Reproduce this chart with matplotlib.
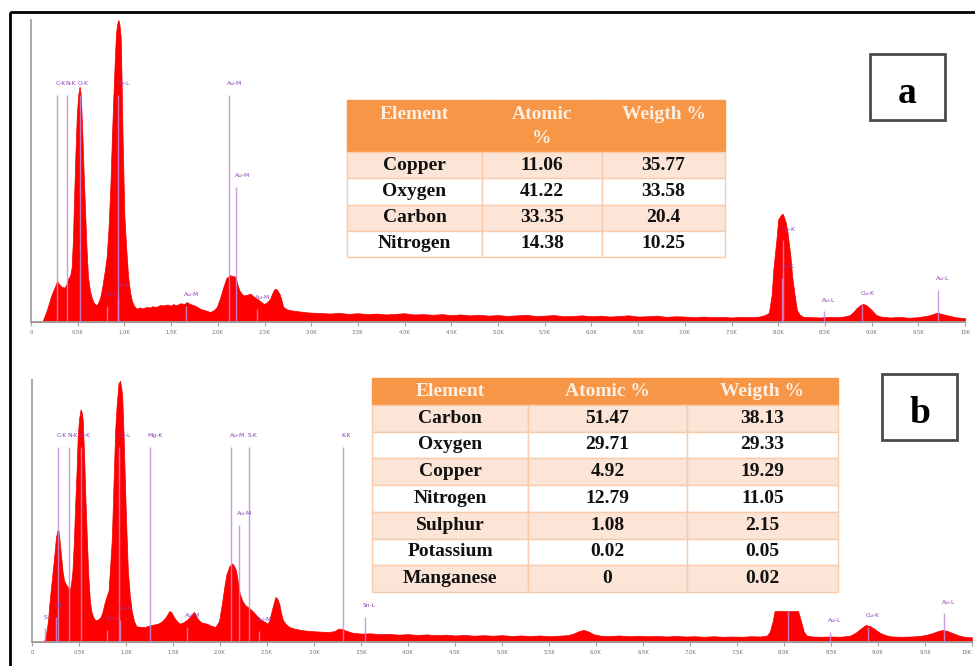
import matplotlib.pyplot as plt
from matplotlib.patches import Rectangle

# ---- data ----------------------------------------------------------------
# EDS spectra: (energy keV, counts in % of the tallest peak)
spec_a = [(0.00, 0), (0.12, 0), (0.14, 1.5), (0.17, 4), (0.20, 7), (0.22, 9), (0.24, 10.5),
          (0.26, 12), (0.28, 13.6), (0.30, 12.5), (0.33, 11.6), (0.36, 11.4), (0.38, 12.5),
          (0.40, 14.4), (0.42, 15.5), (0.435, 18), (0.45, 28), (0.46, 40), (0.475, 55),
          (0.49, 68), (0.505, 75), (0.52, 78), (0.53, 76), (0.54, 70), (0.55, 62),
          (0.565, 48), (0.58, 36), (0.595, 24), (0.61, 15), (0.63, 10.5), (0.65, 8),
          (0.67, 6.5), (0.70, 5.5), (0.72, 6.5), (0.74, 8), (0.76, 11), (0.775, 14),
          (0.79, 17), (0.81, 21.5), (0.83, 31), (0.85, 45), (0.865, 60), (0.88, 73),
          (0.895, 85), (0.91, 95.6), (0.925, 99), (0.935, 100), (0.945, 99), (0.96, 94.5),
          (0.97, 80), (0.98, 62), (0.99, 48), (1.00, 35), (1.02, 24), (1.04, 15),
          (1.06, 10), (1.08, 7), (1.10, 5.5), (1.13, 4.4), (1.16, 4.8), (1.20, 4.5),
          (1.24, 5.0), (1.27, 4.8), (1.30, 5.2), (1.34, 5.0), (1.38, 5.6), (1.42, 5.5),
          (1.46, 5.8), (1.50, 5.4), (1.52, 5.9), (1.56, 5.6), (1.60, 6.2), (1.64, 6.0),
          (1.67, 6.6), (1.70, 6.0), (1.74, 5.6), (1.78, 5.0), (1.81, 4.4), (1.85, 4.0),
          (1.89, 3.6), (1.92, 3.3), (1.96, 4.0), (1.99, 5.0), (2.02, 7.5), (2.06, 11.6),
          (2.09, 14.5), (2.13, 15.5), (2.16, 15.2), (2.19, 15.0), (2.21, 12.5), (2.23, 10.5),
          (2.26, 9.2), (2.28, 8.8), (2.31, 9.0), (2.35, 9.4), (2.38, 8.5), (2.42, 7.7),
          (2.46, 6.8), (2.49, 6.0), (2.52, 6.3), (2.56, 7.7), (2.59, 10), (2.61, 11),
          (2.63, 10.8), (2.66, 9.4), (2.68, 7.5), (2.70, 5.0), (2.74, 4.2), (2.78, 3.9),
          (2.85, 3.6), (2.92, 3.3), (3.0, 3.1), (3.1, 3.0), (3.2, 2.8), (3.3, 3.0),
          (3.4, 2.7), (3.5, 2.9), (3.6, 2.6), (3.7, 2.8), (3.8, 2.5), (3.9, 2.7),
          (4.0, 2.9), (4.1, 2.5), (4.2, 2.6), (4.3, 2.4), (4.4, 2.6), (4.5, 2.3),
          (4.6, 2.5), (4.7, 2.2), (4.8, 2.4), (4.9, 2.1), (5.0, 2.3), (5.1, 2.0),
          (5.2, 2.2), (5.3, 2.4), (5.4, 2.0), (5.5, 2.1), (5.6, 2.3), (5.7, 1.9),
          (5.8, 2.0), (5.9, 2.2), (6.0, 1.9), (6.1, 2.1), (6.2, 1.8), (6.3, 2.0),
          (6.4, 2.2), (6.5, 1.8), (6.6, 1.9), (6.7, 2.1), (6.8, 1.7), (6.9, 1.9),
          (7.0, 1.8), (7.1, 1.6), (7.2, 1.8), (7.3, 1.6), (7.4, 1.7), (7.5, 1.5),
          (7.6, 1.7), (7.7, 1.6), (7.8, 1.8), (7.85, 2.2), (7.90, 3), (7.93, 9),
          (7.95, 18), (7.98, 27), (8.00, 34), (8.03, 35.5), (8.05, 35.8), (8.08, 33),
          (8.10, 29.5), (8.13, 22), (8.15, 15), (8.18, 8), (8.20, 4), (8.23, 2.4),
          (8.27, 1.7), (8.35, 1.6), (8.45, 1.5), (8.55, 1.7), (8.65, 1.6), (8.72, 1.9),
          (8.77, 2.3), (8.81, 3.5), (8.84, 4.6), (8.88, 5.6), (8.91, 6.0), (8.94, 5.6),
          (8.98, 4.6), (9.02, 3.3), (9.05, 2.3), (9.1, 1.8), (9.2, 1.5), (9.3, 1.7),
          (9.4, 1.4), (9.5, 1.6), (9.58, 2.0), (9.63, 2.3), (9.68, 2.9), (9.71, 3.0),
          (9.75, 2.7), (9.8, 2.3), (9.84, 2.0), (9.9, 1.6), (9.95, 1.4), (10.0, 1.3)]

spec_b = [(0.00, 0), (0.12, 0), (0.14, 1.5), (0.15, 3), (0.17, 8), (0.185, 14.6), (0.20, 20),
          (0.22, 27), (0.24, 34), (0.255, 40), (0.27, 42.5), (0.28, 42.7), (0.29, 40),
          (0.31, 32.5), (0.325, 27), (0.34, 23.6), (0.36, 22), (0.38, 21), (0.40, 19.7),
          (0.415, 22), (0.43, 27), (0.445, 38), (0.46, 53), (0.475, 66), (0.486, 78),
          (0.50, 85), (0.517, 88.8), (0.53, 87.5), (0.54, 84.7), (0.555, 70), (0.57, 53),
          (0.585, 38), (0.60, 24.8), (0.615, 16), (0.63, 12), (0.65, 9.5), (0.675, 8.3),
          (0.70, 8.5), (0.73, 9.5), (0.75, 11.5), (0.77, 14.6), (0.79, 17), (0.815, 19.7),
          (0.83, 28), (0.85, 40), (0.865, 58), (0.885, 80.9), (0.90, 90), (0.92, 98.7),
          (0.937, 99.7), (0.95, 97), (0.96, 93.6), (0.975, 78), (0.99, 59), (1.005, 42),
          (1.02, 27), (1.04, 18), (1.06, 12), (1.085, 8), (1.11, 6), (1.15, 5.8),
          (1.20, 5.7), (1.24, 6.2), (1.28, 6.5), (1.34, 7), (1.38, 7.8), (1.41, 8.9),
          (1.44, 10.5), (1.46, 11.8), (1.48, 11.5), (1.51, 9.5), (1.54, 8), (1.57, 7),
          (1.61, 7.5), (1.65, 8.5), (1.69, 10), (1.72, 11.5), (1.74, 10.5), (1.76, 8.9),
          (1.80, 7.5), (1.86, 7), (1.90, 6.3), (1.95, 5.7), (1.99, 8), (2.02, 14.6),
          (2.05, 22), (2.07, 26), (2.10, 29), (2.13, 30), (2.15, 29), (2.17, 27.4),
          (2.19, 23), (2.21, 18.5), (2.24, 15.5), (2.27, 14), (2.30, 13.2), (2.34, 12),
          (2.38, 10.5), (2.42, 8.9), (2.46, 8), (2.51, 7), (2.53, 9), (2.56, 13.4),
          (2.59, 17.2), (2.61, 16.5), (2.63, 14.6), (2.65, 11), (2.67, 8.3), (2.70, 6.8),
          (2.74, 5.7), (2.8, 5.0), (2.88, 4.5), (2.95, 4.2), (3.05, 4.0), (3.16, 3.8),
          (3.22, 4.2), (3.26, 5.1), (3.30, 5.0), (3.33, 4.5), (3.4, 3.6), (3.5, 3.2),
          (3.6, 3.3), (3.7, 3.0), (3.8, 3.1), (3.9, 2.8), (4.0, 3.0), (4.1, 2.7),
          (4.2, 2.9), (4.3, 2.6), (4.4, 2.8), (4.5, 2.5), (4.6, 2.7), (4.7, 2.4),
          (4.8, 2.6), (4.9, 2.4), (5.0, 2.6), (5.1, 2.3), (5.2, 2.5), (5.3, 2.3),
          (5.4, 2.5), (5.5, 2.2), (5.6, 2.4), (5.7, 2.6), (5.76, 3.2), (5.82, 4.2),
          (5.87, 4.6), (5.92, 4.0), (5.97, 3.0), (6.05, 2.4), (6.15, 2.3), (6.25, 2.5),
          (6.35, 2.2), (6.45, 2.4), (6.55, 2.2), (6.65, 2.3), (6.75, 2.1), (6.85, 2.3),
          (6.95, 2.1), (7.05, 2.2), (7.15, 2.0), (7.25, 2.2), (7.35, 2.0), (7.45, 2.1),
          (7.55, 2.0), (7.65, 2.2), (7.75, 2.1), (7.82, 2.5), (7.85, 4), (7.88, 8),
          (7.90, 11.8), (8.15, 11.8), (8.18, 8), (8.21, 4), (8.24, 2.5), (8.3, 2.1),
          (8.4, 2.0), (8.5, 2.1), (8.6, 2.0), (8.7, 2.4), (8.76, 3.5), (8.82, 5.2),
          (8.87, 6.5), (8.92, 6.0), (8.97, 4.8), (9.02, 3.5), (9.08, 2.6), (9.15, 2.1),
          (9.25, 2.0), (9.35, 2.1), (9.45, 2.3), (9.52, 2.8), (9.58, 3.4), (9.64, 4.2),
          (9.69, 4.6), (9.74, 4.2), (9.80, 3.3), (9.86, 2.5), (9.92, 2.0), (10.0, 1.8)]

# element markers: (energy keV, marker height %, label)
markers_a = [(0.28, 75.2, "C-K"), (0.39, 75.2, "N-K"), (0.52, 75.2, "O-K"),
             (0.93, 75.2, "Cu-L"), (2.12, 75.2, "Au-M"), (2.20, 44.7, "Au-M"),
             (0.81, 5.3, "Cu-L"), (0.93, 8.3, "Cu-L"), (1.66, 5.3, "Au-M"),
             (2.42, 4.3, "Au-M"), (8.05, 27.0, "Cu-K"), (8.04, 14.6, "Cu-K"),
             (8.49, 3.6, "Au-L"), (8.90, 5.6, "Cu-K"), (9.71, 10.6, "Au-L")]
markers_b = [(0.28, 74.4, "C-K"), (0.39, 74.4, "N-K"), (0.52, 74.4, "O-K"),
             (0.93, 74.4, "Cu-L"), (1.25, 74.4, "Mg-K"), (2.12, 74.4, "Au-M"),
             (2.31, 74.4, "S-K"), (3.31, 74.4, "K-K"), (2.20, 44.7, "Au-M"),
             (0.14, 5.3, "S-L"), (0.26, 9.5, "K-L"), (0.80, 4.6, "Cu-L"),
             (0.94, 8.4, "Cu-L"), (1.65, 5.7, "Au-M"), (2.41, 4.2, "Au-M"),
             (3.54, 9.5, "Sn-L"), (8.04, 11.8, ""), (8.49, 3.8, "Au-L"),
             (8.89, 5.7, "Cu-K"), (9.70, 11.0, "Au-L")]

tick_vals = [0, 0.5, 1, 1.5, 2, 2.5, 3, 3.5, 4, 4.5, 5, 5.5, 6, 6.5, 7, 7.5, 8, 8.5, 9, 9.5, 10]
tick_labels = ["0", "0.5K", "1.0K", "1.5K", "2.0K", "2.5K", "3.0K", "3.5K", "4.0K", "4.5K",
               "5.0K", "5.5K", "6.0K", "6.5K", "7.0K", "7.5K", "8.0K", "8.5K", "9.0K",
               "9.5K", "10K"]

table_header_a = ["Element\n ", "Atomic\n%", "Weigth %\n "]
table_rows_a = [["Copper", "11.06", "35.77"],
                ["Oxygen", "41.22", "33.58"],
                ["Carbon", "33.35", "20.4"],
                ["Nitrogen", "14.38", "10.25"]]
table_header_b = ["Element", "Atomic %", "Weigth %"]
table_rows_b = [["Carbon", "51.47", "38.13"],
                ["Oxygen", "29.71", "29.33"],
                ["Copper", "4.92", "19.29"],
                ["Nitrogen", "12.79", "11.05"],
                ["Sulphur", "1.08", "2.15"],
                ["Potassium", "0.02", "0.05"],
                ["Manganese", "0", "0.02"]]

W, H = 975, 666
fig = plt.figure(figsize=(W / 100, H / 100), dpi=100)


def px_axes(x0, y0, x1, y1):
    # axes placed by pixel box (top-left origin)
    return fig.add_axes([x0 / W, 1 - y1 / H, (x1 - x0) / W, (y1 - y0) / H])


def draw_spectrum(ax, spec, markers, last_right=False):
    e = [p[0] for p in spec]
    c = [p[1] for p in spec]
    ax.fill_between(e, c, 0, color="#ff0000", lw=0.5, edgecolor="#f00000", zorder=2)
    for kev, top, lab in markers:
        ax.vlines(kev, 0, top, color="#c68ad8", lw=1, alpha=0.85, zorder=3)
        if lab:
            ax.annotate(lab, (kev, top), xytext=(-1.2, 8), textcoords="offset points",
                        ha="left", va="center", fontsize=4.3, color="#8a3fb5", zorder=4)
    ax.set_xlim(0, 10)
    ax.set_ylim(0, 100)
    for s in ["top", "right"]:
        ax.spines[s].set_visible(False)
    for s in ["left", "bottom"]:
        ax.spines[s].set_color("#a0a0a0")
        ax.spines[s].set_linewidth(1.3)
    ax.set_yticks([])
    ax.set_xticks(tick_vals)
    ax.set_xticklabels(tick_labels)
    ax.tick_params(axis="x", length=3, width=0.8, color="#a0a0a0", pad=3,
                   labelsize=3.8, labelcolor="#707070")
    if last_right:
        ax.get_xticklabels()[-1].set_horizontalalignment("right")
    ax.patch.set_alpha(0)


def draw_table(box, header, rows, col_w, header_ratio, fsize, hspacing=1.2):
    x0, y0, x1, y1 = box
    ax = px_axes(x0, y0, x1, y1)
    ax.axis("off")
    tb = ax.table(cellText=[header] + rows, colWidths=col_w, cellLoc="center",
                  bbox=[0, 0, 1, 1])
    tb.auto_set_font_size(False)
    tb.set_fontsize(fsize)
    for (r, cidx), cell in tb.get_celld().items():
        cell.set_linewidth(1)
        t = cell.get_text()
        t.set_fontfamily("Liberation Serif")
        t.set_fontweight("bold")
        if r == 0:
            cell.set_facecolor("#f79646")
            cell.set_edgecolor("#f79646")
            cell.set_height(cell.get_height() * header_ratio)
            t.set_color("#fdf0e3")
            t.set_linespacing(hspacing)
        else:
            cell.set_facecolor("#fce4d6" if r % 2 == 1 else "#ffffff")
            cell.set_edgecolor("#f8cbad")
            t.set_color("#111111")
    return tb


ax_a = px_axes(31, 20, 965, 322)
draw_spectrum(ax_a, spec_a, markers_a)
ax_b = px_axes(32, 380, 972, 642)
draw_spectrum(ax_b, spec_b, markers_b, last_right=True)

draw_table((347, 100, 725, 257), table_header_a, table_rows_a,
           [135, 120, 123], 2.0, 14, hspacing=1.55)
draw_table((372, 378, 838, 592), table_header_b, table_rows_b,
           [156, 159, 151], 1.0, 14)

# frame and panel letters
ov = fig.add_axes([0, 0, 1, 1])
ov.set_xlim(0, W)
ov.set_ylim(H, 0)
ov.axis("off")
ov.add_patch(Rectangle((10, 12), 1000, 1000, fill=False, ec="black", lw=2))
for (bx, by), letter in [((870, 54), "a"), ((882, 374), "b")]:
    ov.add_patch(Rectangle((bx, by), 75, 66, fc="white", ec="#4a4a4a", lw=2))
    ov.text(bx + 37.5, by + 49, letter, ha="center",
            va="baseline", fontsize=27, fontweight="bold", family="Liberation Serif")

fig.savefig("out.png", dpi=100)
